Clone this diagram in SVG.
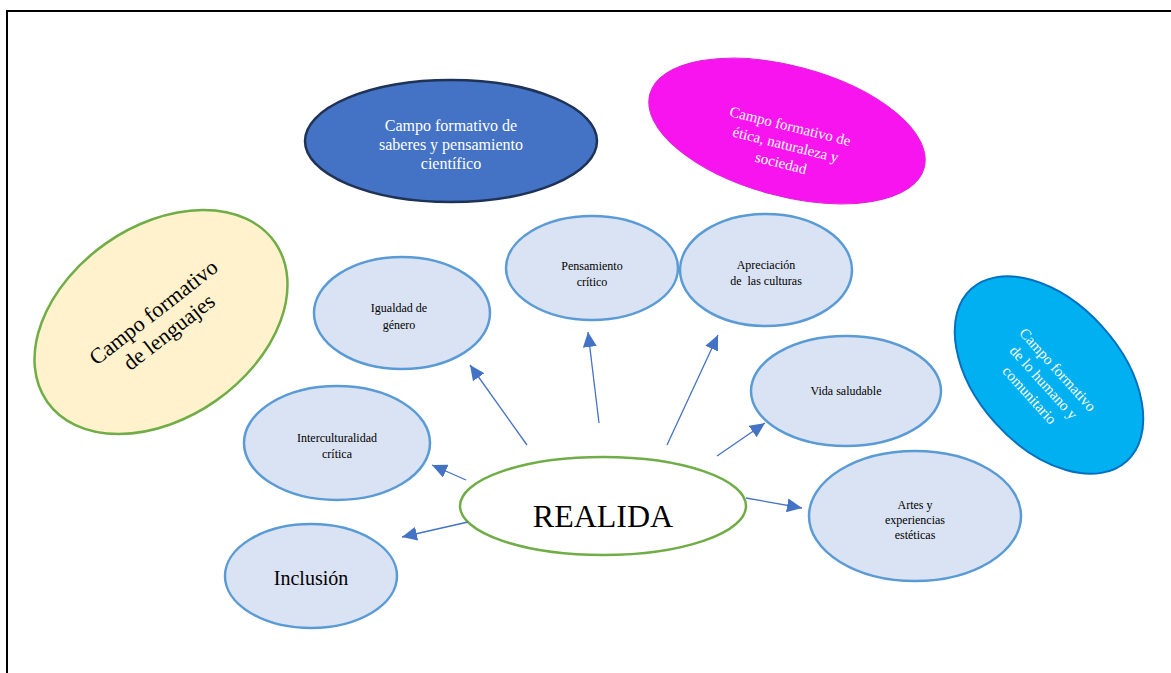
<svg xmlns="http://www.w3.org/2000/svg" width="1171" height="673" viewBox="0 0 1171 673">
  <style>
    text { font-family: "Liberation Serif", "Times New Roman", serif; text-anchor: middle; }
    .topic ellipse { fill: #DAE3F3; stroke: #5B9BD5; stroke-width: 2.5; }
    .topic text { font-size: 12px; fill: #000; }
    .field text { font-size: 15px; fill: #fff; }
    .conn line { stroke: #4472C4; stroke-width: 1.3; marker-end: url(#tip); }
  </style>
  <defs>
    <marker id="tip" markerUnits="userSpaceOnUse" markerWidth="16" markerHeight="14" refX="15" refY="7" orient="auto">
      <path d="M0,0 L15,7 L0,14 Z" fill="#4472C4"/>
    </marker>
  </defs>

  <rect width="1171" height="673" fill="#fff"/>
  <!-- page frame -->
  <path d="M7,673 V11 H1171" fill="none" stroke="#000" stroke-width="2"/>

  <!-- formative fields -->
  <g id="campo-lenguajes" class="field">
    <ellipse cx="161" cy="322" rx="139" ry="96" transform="rotate(-35 161 322)" fill="#FFF2CC" stroke="#70AD47" stroke-width="2.5"/>
    <g transform="translate(158,318) rotate(-38)">
      <text y="0" style="font-size:22px;fill:#000">Campo formativo</text>
      <text y="25" style="font-size:22px;fill:#000">de lenguajes</text>
    </g>
  </g>

  <g id="campo-saberes" class="field">
    <ellipse cx="451" cy="141" rx="146" ry="61" fill="#4472C4" stroke="#1F3357" stroke-width="2.5"/>
    <text x="451" y="131" style="font-size:16px">Campo formativo de</text>
    <text x="451" y="150" style="font-size:16px">saberes y pensamiento</text>
    <text x="451" y="169" style="font-size:16px">científico</text>
  </g>

  <g id="campo-etica" class="field">
    <ellipse cx="787" cy="131" rx="142" ry="65" transform="rotate(15 787 131)" fill="#F814EE" stroke="#E020D8" stroke-width="1"/>
    <g transform="translate(789,131) rotate(14)">
      <text y="0">Campo formativo de</text>
      <text y="19">ética, naturaleza y</text>
      <text y="38">sociedad</text>
    </g>
  </g>

  <g id="campo-humano" class="field">
    <ellipse cx="1049" cy="375" rx="116" ry="72" transform="rotate(48 1049 375)" fill="#00B0F0" stroke="#0070C0" stroke-width="2"/>
    <g transform="translate(1054,373) rotate(48)">
      <text y="0">Campo formativo</text>
      <text y="19">de lo humano y</text>
      <text y="38">comunitario</text>
    </g>
  </g>

  <!-- topics -->
  <g id="igualdad" class="topic">
    <ellipse cx="402" cy="313" rx="88" ry="56"/>
    <text x="399" y="312">Igualdad de</text>
    <text x="399" y="329">género</text>
  </g>
  <g id="pensamiento" class="topic">
    <ellipse cx="592" cy="268" rx="86" ry="52"/>
    <text x="592" y="270">Pensamiento</text>
    <text x="592" y="286">crítico</text>
  </g>
  <g id="apreciacion" class="topic">
    <ellipse cx="766" cy="270" rx="86" ry="56"/>
    <text x="766" y="269">Apreciación</text>
    <text x="766" y="285" xml:space="preserve">de  las culturas</text>
  </g>
  <g id="vida" class="topic">
    <ellipse cx="846" cy="391" rx="95" ry="55"/>
    <text x="846" y="395">Vida saludable</text>
  </g>
  <g id="artes" class="topic">
    <ellipse cx="915" cy="516" rx="106" ry="65"/>
    <text x="915" y="509">Artes y</text>
    <text x="915" y="524">experiencias</text>
    <text x="915" y="539">estéticas</text>
  </g>
  <g id="interculturalidad" class="topic">
    <ellipse cx="337" cy="443" rx="93" ry="57"/>
    <text x="337" y="442">Interculturalidad</text>
    <text x="337" y="458">crítica</text>
  </g>
  <g id="inclusion" class="topic">
    <ellipse cx="311" cy="576" rx="86" ry="52"/>
    <text x="311" y="585" style="font-size:20px">Inclusión</text>
  </g>

  <!-- centre -->
  <g id="realidad">
    <ellipse cx="603" cy="506" rx="143" ry="49" fill="#fff" stroke="#70AD47" stroke-width="2.5"/>
    <text x="603" y="527" style="font-size:32px">REALIDA</text>
  </g>

  <!-- connectors -->
  <g id="connectors" class="conn">
    <line x1="527" y1="445" x2="470" y2="365"/>
    <line x1="599" y1="423" x2="588" y2="332"/>
    <line x1="667" y1="445" x2="718" y2="335"/>
    <line x1="717" y1="456" x2="765" y2="423"/>
    <line x1="746" y1="498" x2="802" y2="508"/>
    <line x1="466" y1="480" x2="432" y2="465"/>
    <line x1="468" y1="522" x2="402" y2="537"/>
  </g>
</svg>
